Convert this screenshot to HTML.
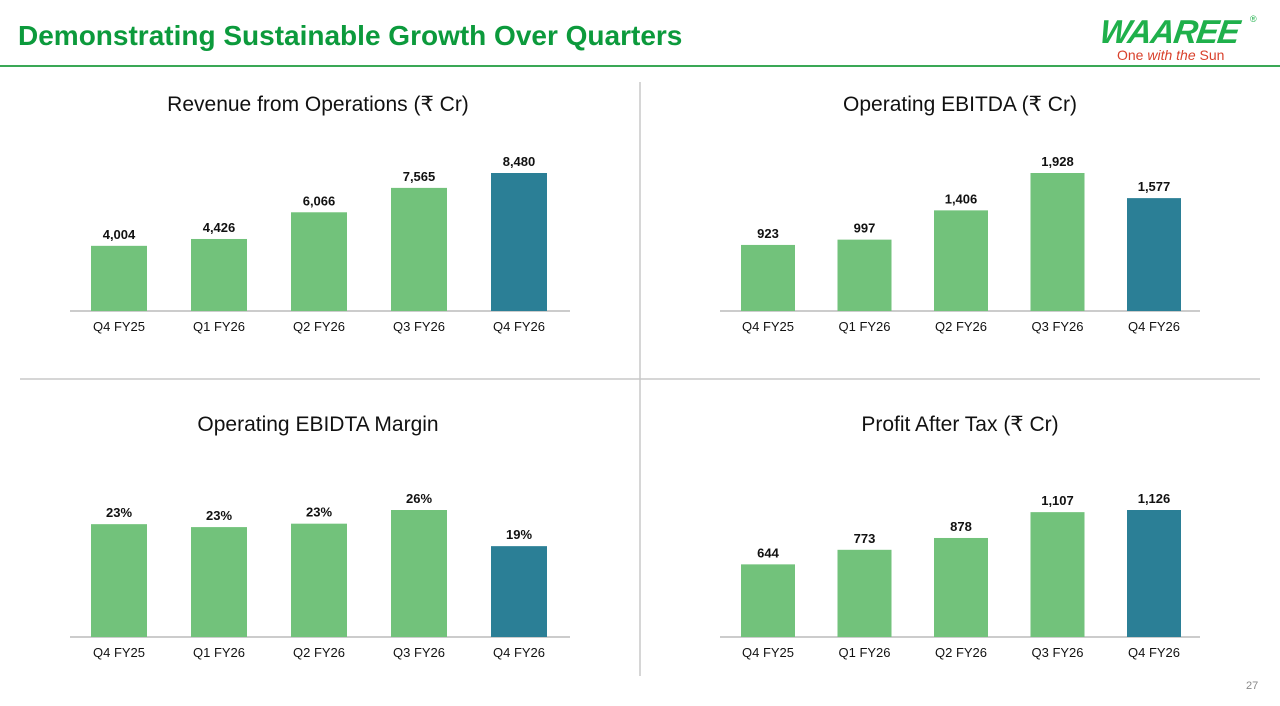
<!DOCTYPE html>
<html><head><meta charset="utf-8">
<style>
body{margin:0;width:1280px;height:706px;background:#fff;font-family:"Liberation Sans",sans-serif;position:relative;overflow:hidden}
.hdr{position:absolute;left:18px;top:20px;font-size:28px;font-weight:bold;color:#0c9a3c;letter-spacing:0px}
.hline{position:absolute;left:0;top:65px;width:1280px;height:2px;background:#3aa856}
.logo{position:absolute;left:1100px;top:13px;font-size:33px;font-weight:bold;font-style:italic;color:#1fb04b;letter-spacing:-1px;transform:skewX(-8deg)}
.tag{position:absolute;left:1117px;top:47px;font-size:14px;color:#d9412c}
.reg{position:absolute;left:1250px;top:14px;font-size:9px;color:#1fb04b}
.pg{position:absolute;left:1246px;top:680px;font-size:11px;color:#888}
svg{position:absolute;left:0;top:0}
</style></head><body>
<div class="hdr">Demonstrating Sustainable Growth Over Quarters</div>
<div class="hline"></div>
<div class="logo">WAAREE</div>
<div class="reg">®</div>
<div class="tag">One <i>with the</i> Sun</div>
<div class="pg">27</div>
<svg id="s" width="1280" height="706">
<line x1="640" y1="82" x2="640" y2="676" stroke="#c8c8c8" stroke-width="1.5"/>
<line x1="20" y1="379" x2="1260" y2="379" stroke="#c8c8c8" stroke-width="1.5"/>
</svg>
<script>
const categories=["Q4 FY25","Q1 FY26","Q2 FY26","Q3 FY26","Q4 FY26"];
const revenueValues=[4004,4426,6066,7565,8480];
const revenueLabels=["4,004","4,426","6,066","7,565","8,480"];
const ebitdaValues=[923,997,1406,1928,1577];
const ebitdaLabels=["923","997","1,406","1,928","1,577"];
const marginValues=[23.1,22.5,23.2,26.0,18.6];
const marginLabels=["23%","23%","23%","26%","19%"];
const patValues=[644,773,878,1107,1126];
const patLabels=["644","773","878","1,107","1,126"];
const svg=document.getElementById('s');
const NS="http://www.w3.org/2000/svg";
function mk(t,a){const e=document.createElementNS(NS,t);for(const k in a)e.setAttribute(k,a[k]);svg.appendChild(e);return e;}
function chart(name,title,vals,labels,o){
  const t=mk('text',{x:o.cx,y:o.ty,'text-anchor':'middle','font-size':21,fill:'#111'});t.textContent=title;
  
  
  const ax=mk('line',{x1:o.ax0,x2:o.ax1,y1:o.base,y2:o.base,stroke:'#bbb','stroke-width':1.5});
  
  
  const max=Math.max(...vals);
  const y=v=>o.base-v/max*o.h;
  vals.forEach((v,i)=>{
    const x=o.x0+i*o.step;
    const r=mk('rect',{x:x,y:y(v),width:o.bw,height:o.base-y(v),fill:i==4?'#2b7f96':'#72c27b'});
    
    
    const l=mk('text',{x:x+o.bw/2,y:y(v)-7,'text-anchor':'middle','font-size':13,'font-weight':'bold',fill:'#111'});l.textContent=labels[i];
    
    
    const c=mk('text',{x:x+o.bw/2,y:o.base+20,'text-anchor':'middle','font-size':13,fill:'#111'});c.textContent=categories[i];
    
    
  });
}
const L={cx:318,x0:91,step:100,bw:56,ax0:70,ax1:570};
const R={cx:960,x0:741,step:96.5,bw:54,ax0:720,ax1:1200};
chart('revenue','Revenue from Operations (₹ Cr)',revenueValues,revenueLabels,{...L,ty:111,base:311,h:138});
chart('ebitda','Operating EBITDA (₹ Cr)',ebitdaValues,ebitdaLabels,{...R,ty:111,base:311,h:138});
chart('margin','Operating EBIDTA Margin',marginValues,marginLabels,{...L,ty:431,base:637,h:127});
chart('pat','Profit After Tax (₹ Cr)',patValues,patLabels,{...R,ty:431,base:637,h:127});
</script>
</body></html>
